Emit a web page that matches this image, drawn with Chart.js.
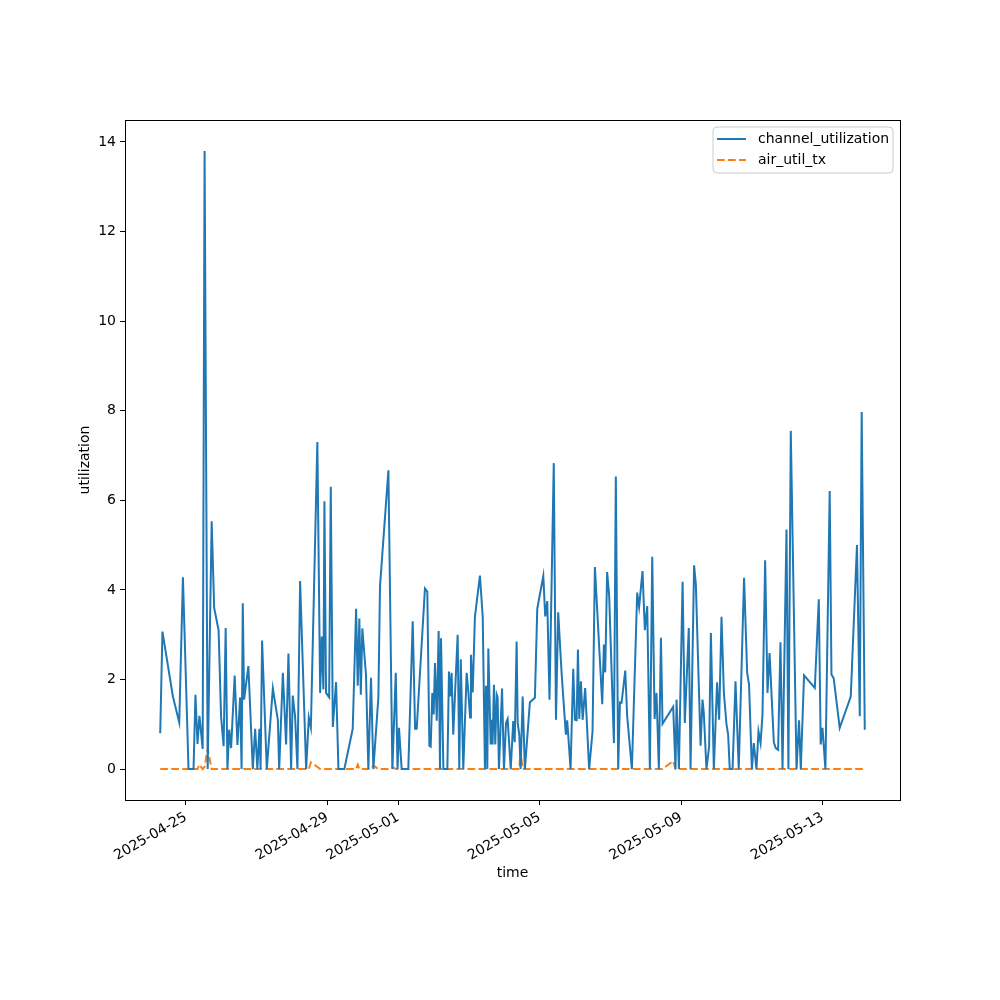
<!DOCTYPE html>
<html>
<head>
<meta charset="utf-8">
<script src="https://cdn.jsdelivr.net/npm/chart.js@4.4.1/dist/chart.umd.min.js"></script>
<style>
    html, body { margin: 0; padding: 0; background: #fff; }
    #wrap { width: 1000px; height: 1000px; }
</style>
</head>
<body>
<div id="wrap"><canvas id="utilChart" width="1000" height="1000"></canvas></div>
<script>
// time origin of the series (UTC), hours are counted from here
const startDate = '2025-04-24T00:00:00Z';

// hours since startDate for every sample
const hours = [
    6.6, 8.1, 15.2, 19.5, 22.0, 25.8, 29.2, 30.5, 31.9, 33.2,
    35.4, 36.7, 38.8, 41.5, 43.2, 46.2, 47.9, 49.6, 51.0, 52.2,
    53.4, 54.7, 57.1, 59.0, 60.8, 61.8, 62.6, 63.5, 66.4, 69.4,
    71.0, 72.5, 73.9, 74.7, 75.7, 78.9, 83.0, 86.4, 87.3, 89.8,
    92.0, 93.6, 95.4, 96.5, 98.1, 99.7, 101.5, 105.6, 107.4, 108.8,
    113.2, 115.1, 116.2, 117.3, 118.0, 119.1, 121.2, 122.3, 123.7, 125.9,
    127.5, 131.5, 137.2, 139.5, 140.6, 141.7, 142.7, 143.7, 146.2, 147.8,
    149.6, 151.2, 154.6, 155.7, 161.4, 164.1, 166.4, 167.6, 168.6, 170.4,
    174.9, 177.9, 179.5, 180.6, 186.2, 187.8, 189.2, 190.1, 191.2, 192.1,
    193.0, 194.2, 195.5, 196.4, 197.1, 198.7, 201.4, 202.5, 203.4, 204.3,
    205.4, 207.3, 208.4, 209.5, 210.5, 212.2, 214.5, 215.6, 216.8, 217.4,
    218.6, 220.1, 223.5, 225.4, 226.9, 227.6, 228.5, 229.2, 230.8, 231.7,
    232.1, 233.0, 233.9, 234.9, 235.5, 236.4, 238.5, 239.8, 241.2, 242.3,
    244.4, 246.1, 247.1, 248.4, 249.1, 250.2, 251.1, 252.5, 254.0, 257.4,
    260.8, 262.4, 266.5, 267.8, 269.2, 270.7, 273.6, 275.1, 276.6, 278.9,
    281.8, 282.7, 285.0, 286.8, 287.9, 289.1, 290.0, 290.9, 292.0, 293.2,
    294.9, 297.6, 299.9, 301.5, 306.5, 307.6, 308.5, 309.8, 311.2, 314.4,
    315.7, 317.3, 318.5, 319.6, 322.1, 323.4, 326.6, 330.2, 331.5, 333.8,
    335.4, 337.0, 338.8, 340.4, 342.0, 343.3, 344.9, 346.3, 347.4, 354.6,
    356.2, 356.9, 358.5, 361.0, 362.5, 365.2, 366.4, 368.8, 370.0, 373.2,
    374.5, 375.4, 377.2, 379.0, 380.2, 382.2, 384.4, 385.8, 387.4, 389.0,
    390.8, 391.9, 393.0, 394.9, 396.9, 399.1, 402.7, 404.8, 406.1, 408.0,
    409.3, 411.1, 412.5, 413.9, 415.2, 417.0, 418.6, 420.0, 422.9, 424.2,
    425.8, 427.4, 428.8, 431.5, 432.8, 434.4, 438.3, 440.0, 441.2, 443.4,
    450.7, 453.4, 454.7, 455.9, 457.9, 460.8, 462.0, 463.5, 467.6, 475.1,
    479.3, 481.2, 482.5, 484.6
];

const channelUtilization = [
    0.80, 3.07, 1.62, 1.04, 4.28, 0, 0, 1.66, 0.56, 1.19,
    0.45, 13.8, 0, 5.53, 3.6, 3.1, 1.16, 0.51, 3.15, 0,
    0.88, 0.47, 2.09, 0.54, 1.6, 0, 3.7, 1.55, 2.3, 0,
    0.9, 0, 0.9, 0, 2.87, 0, 1.8, 1.1, 0, 2.15,
    0.55, 2.58, 0, 1.64, 1.17, 0, 4.2, 0, 1.15, 0.93,
    7.3, 1.7, 2.96, 1.78, 5.98, 1.7, 1.6, 6.3, 0.94, 1.94,
    0, 0, 0.9, 3.58, 1.86, 3.36, 1.66, 3.14, 2.1, 0,
    2.04, 0, 1.6, 4.08, 6.67, 0, 2.15, 0, 0.92, 0,
    0, 3.3, 0.9, 0.9, 4.03, 3.96, 0.52, 0.5, 1.7, 1.22,
    2.37, 1.08, 3.08, 0, 2.92, 0, 0, 2.18, 1.62, 2.15,
    0.77, 2.2, 3.0, 0, 2.45, 0, 2.15, 1.74, 1.15, 2.55,
    1.71, 3.4, 4.32, 3.4, 0, 1.86, 0, 2.69, 0.55, 1.1,
    0.55, 1.88, 0.55, 1.66, 1.6, 0, 1.8, 0, 1.03, 1.12,
    0, 1.07, 0.6, 2.85, 1.03, 0.77, 0, 1.62, 0, 1.49,
    1.59, 3.58, 4.31, 3.41, 3.75, 1.55, 6.83, 1.1, 3.5, 2.15,
    0.77, 1.09, 0, 2.24, 1.1, 1.09, 2.67, 1.12, 1.96, 1.1,
    1.81, 0, 0.84, 4.51, 1.45, 2.78, 2.16, 4.4, 3.86, 0.58,
    6.53, 0, 1.49, 1.48, 2.2, 1.18, 0, 3.94, 3.62, 4.42,
    3.1, 3.64, 0, 4.74, 1.12, 1.7, 0, 2.93, 1.01, 1.39,
    0, 1.55, 0, 4.18, 1.03, 3.15, 0, 4.55, 4.12, 0.52,
    1.55, 1.25, 0, 0.5, 3.04, 0, 1.94, 1.1, 3.4, 1.71,
    0.99, 0.77, 0, 0, 1.96, 0, 4.27, 2.15, 1.88, 0,
    0.58, 0, 0.84, 0.58, 1.21, 4.66, 1.7, 2.59, 0.6, 0.47,
    0.43, 2.83, 0, 5.35, 0, 7.55, 0, 1.09, 0, 2.09,
    1.81, 3.79, 0.55, 0.92, 0, 6.21, 2.11, 2.03, 0.92, 1.62,
    5.0, 1.18, 7.97, 0.88
];

const airUtilTx = [
    0, 0, 0, 0, 0, 0, 0, 0, 0, 0.1, 0, 0.05, 0.45, 0, 0, 0, 0, 0, 0, 0,
    0, 0, 0, 0, 0, 0, 0, 0, 0, 0, 0, 0, 0, 0, 0, 0, 0, 0, 0, 0,
    0, 0, 0, 0, 0, 0, 0, 0, 0, 0.15, 0.05, 0, 0, 0, 0, 0, 0, 0, 0, 0,
    0, 0, 0, 0, 0.1, 0, 0, 0, 0, 0, 0, 0.08, 0, 0, 0, 0.05, 0, 0, 0, 0,
    0, 0, 0, 0, 0, 0, 0, 0, 0, 0, 0, 0, 0, 0, 0, 0, 0, 0, 0, 0,
    0, 0, 0, 0, 0, 0, 0, 0, 0, 0, 0, 0, 0, 0, 0, 0, 0, 0, 0, 0,
    0, 0, 0, 0, 0, 0, 0, 0, 0, 0, 0, 0, 0, 0, 0, 0, 0.4, 0, 0, 0,
    0, 0, 0, 0, 0, 0, 0, 0, 0, 0, 0, 0, 0, 0, 0, 0, 0, 0, 0, 0,
    0, 0, 0, 0, 0, 0, 0, 0, 0, 0, 0, 0, 0, 0, 0, 0, 0, 0, 0, 0,
    0, 0, 0, 0, 0, 0, 0, 0, 0, 0.18, 0, 0, 0, 0, 0, 0, 0, 0, 0, 0,
    0, 0, 0, 0, 0, 0, 0, 0, 0, 0, 0, 0, 0, 0, 0, 0, 0, 0, 0, 0,
    0, 0, 0, 0, 0, 0, 0, 0, 0, 0, 0, 0, 0, 0, 0, 0, 0, 0, 0, 0,
    0, 0, 0, 0, 0, 0, 0, 0, 0, 0, 0, 0, 0, 0
];

const xTickDates = ['2025-04-25', '2025-04-29', '2025-05-01', '2025-05-05', '2025-05-09', '2025-05-13'];
const yTickValues = [0, 2, 4, 6, 8, 10, 12, 14];

const seriesNames = ['channel_utilization', 'air_util_tx'];
const colors = { blue: '#1f77b4', orange: '#ff7f0e' };

const t0 = Date.parse(startDate);
const HOUR = 3600 * 1000;
const times = hours.map(h => t0 + h * HOUR);

// matplotlib style 5% margins
const tMin = Math.min(...times), tMax = Math.max(...times);
const allY = channelUtilization.concat(airUtilTx);
const vMin = Math.min(...allY), vMax = Math.max(...allY);
const xPad = (tMax - tMin) * 0.05;
const yPad = (vMax - vMin) * 0.05;

Chart.defaults.font.family = "'DejaVu Sans', sans-serif";
Chart.defaults.font.size = 14;
Chart.defaults.color = '#000';

// frame + legend + axis titles, drawn like matplotlib
const mplDecor = {
    id: 'mplDecor',
    afterDraw(chart) {
        const ctx = chart.ctx;
        const a = chart.chartArea;
        ctx.save();
        ctx.strokeStyle = '#000';
        ctx.lineWidth = 1;
        ctx.strokeRect(Math.round(a.left) + 0.5, Math.round(a.top) + 0.5,
            Math.round(a.right - a.left), Math.round(a.bottom - a.top));

        // axis titles
        ctx.fillStyle = '#000';
        ctx.font = "14px 'DejaVu Sans', sans-serif";
        ctx.textAlign = 'center';
        ctx.textBaseline = 'middle';
        ctx.fillText('time', (a.left + a.right) / 2, 873);
        ctx.translate(85, (a.top + a.bottom) / 2);
        ctx.rotate(-Math.PI / 2);
        ctx.fillText('utilization', 0, 0);
        ctx.restore();

        // legend box
        ctx.save();
        const bx = 713, by = 127, bw = 180, bh = 46, r = 4;
        ctx.beginPath();
        ctx.moveTo(bx + r, by);
        ctx.arcTo(bx + bw, by, bx + bw, by + bh, r);
        ctx.arcTo(bx + bw, by + bh, bx, by + bh, r);
        ctx.arcTo(bx, by + bh, bx, by, r);
        ctx.arcTo(bx, by, bx + bw, by, r);
        ctx.closePath();
        ctx.fillStyle = 'rgba(255,255,255,0.8)';
        ctx.fill();
        ctx.strokeStyle = '#cccccc';
        ctx.lineWidth = 1;
        ctx.stroke();

        const rows = [
            { y: 139, color: colors.blue, dash: [] },
            { y: 160, color: colors.orange, dash: [7.7, 3.3] }
        ];
        rows.forEach((row, i) => {
            ctx.beginPath();
            ctx.setLineDash(row.dash);
            ctx.strokeStyle = row.color;
            ctx.lineWidth = 2;
            ctx.moveTo(717, row.y);
            ctx.lineTo(746, row.y);
            ctx.stroke();
            ctx.setLineDash([]);
            ctx.fillStyle = '#000';
            ctx.font = "14px 'DejaVu Sans', sans-serif";
            ctx.textAlign = 'left';
            ctx.textBaseline = 'middle';
            ctx.fillText(seriesNames[i], 758, row.y);
        });
        ctx.restore();
    }
};

new Chart(document.getElementById('utilChart'), {
    type: 'line',
    data: {
        datasets: [{
            label: seriesNames[0],
            data: times.map((t, i) => ({ x: t, y: channelUtilization[i] })),
            borderColor: colors.blue,
            borderWidth: 2,
            pointRadius: 0,
            tension: 0,
            fill: false
        }, {
            label: seriesNames[1],
            data: times.map((t, i) => ({ x: t, y: airUtilTx[i] })),
            borderColor: colors.orange,
            borderWidth: 2,
            borderDash: [7.7, 3.3],
            pointRadius: 0,
            tension: 0,
            fill: false
        }]
    },
    options: {
        responsive: false,
        animation: false,
        devicePixelRatio: 1,
        layout: { padding: { left: 0, top: 120, right: 100, bottom: 0 } },
        plugins: {
            legend: { display: false },
            tooltip: { enabled: false }
        },
        scales: {
            x: {
                type: 'linear',
                min: tMin - xPad,
                max: tMax + xPad,
                border: { display: false },
                grid: { drawOnChartArea: false, drawTicks: true, tickLength: 5, color: '#000' },
                ticks: {
                    autoSkip: false,
                    minRotation: 30,
                    maxRotation: 30,
                    padding: 4,
                    callback: v => new Date(v).toISOString().slice(0, 10)
                },
                afterBuildTicks: axis => {
                    axis.ticks = xTickDates.map(d => ({ value: Date.parse(d + 'T00:00:00Z') }));
                },
                afterFit: axis => { axis.height = 200; }
            },
            y: {
                min: vMin - yPad,
                max: vMax + yPad,
                border: { display: false },
                grid: { drawOnChartArea: false, drawTicks: true, tickLength: 5, color: '#000' },
                ticks: { padding: 4 },
                afterBuildTicks: axis => {
                    axis.ticks = yTickValues.map(v => ({ value: v }));
                },
                afterFit: axis => { axis.width = 125; }
            }
        }
    },
    plugins: [mplDecor]
});
</script>
</body>
</html>
